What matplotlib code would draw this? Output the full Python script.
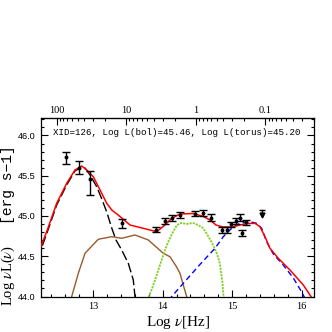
import numpy as np
import matplotlib
matplotlib.use("Agg")
import matplotlib.pyplot as plt
from matplotlib.ticker import MultipleLocator, FixedLocator

plt.rcParams["mathtext.fontset"] = "stix"

# ---- data (log nu [Hz], log nuL(nu) [erg/s]) ----
obs_lognu = [12.605, 12.80, 12.957, 13.42, 13.905, 14.04, 14.14, 14.25, 14.46,
             14.576, 14.69, 14.85, 14.92, 14.99, 15.05, 15.11, 15.145, 15.195]
obs_logL = [45.73, 45.60, 45.456, 44.907, 44.83, 44.94, 44.975, 45.016, 45.03,
            45.04, 44.98, 44.826, 44.826, 44.895, 44.94, 44.98, 44.79, 44.92]
obs_err_lo = [0.08, 0.078, 0.195, 0.055, 0.035, 0.035, 0.035, 0.035, 0.035,
              0.04, 0.04, 0.035, 0.035, 0.035, 0.035, 0.045, 0.035, 0.035]
obs_err_hi = [0.07, 0.078, 0.10, 0.055, 0.035, 0.035, 0.035, 0.035, 0.035,
              0.04, 0.04, 0.035, 0.035, 0.035, 0.035, 0.045, 0.035, 0.035]

ul_lognu = [15.43]
ul_logL = [45.07]
ul_len = [0.06]

total_x = [12.20, 12.260, 12.343, 12.478, 12.622, 12.741, 12.838, 12.909, 13.004,
           13.101, 13.197, 13.269, 13.388, 13.532, 13.723, 13.915, 14.034,
           14.131, 14.250, 14.441, 14.585, 14.681, 14.767, 14.868, 14.997,
           15.112, 15.227, 15.328, 15.399, 15.471, 15.543, 15.662, 15.830,
           16.022, 16.132, 16.20]
total_y = [44.52, 44.640, 44.826, 45.158, 45.406, 45.571, 45.621, 45.571, 45.488,
           45.323, 45.158, 45.075, 44.994, 44.888, 44.847, 44.805, 44.888,
           44.971, 45.025, 45.031, 44.994, 44.950, 44.888, 44.863, 44.863,
           44.888, 44.907, 44.909, 44.867, 44.743, 44.599, 44.475, 44.329,
           44.143, 44.0, 43.9]

sb_x = [12.20, 12.260, 12.343, 12.478, 12.622, 12.741, 12.838, 12.885, 12.957,
        13.053, 13.115, 13.197, 13.269, 13.330, 13.412, 13.507, 13.579, 13.603, 13.62]
sb_y = [44.48, 44.602, 44.801, 45.137, 45.385, 45.559, 45.609, 45.596, 45.509,
        45.364, 45.236, 45.050, 44.851, 44.702, 44.578, 44.412, 44.205, 44.0, 43.8]

torus_x = [12.67, 12.694, 12.789, 12.885, 13.076, 13.269, 13.412, 13.603, 13.795,
           14.010, 14.106, 14.193, 14.250, 14.297, 14.346, 14.36]
torus_y = [43.9, 44.0, 44.288, 44.537, 44.711, 44.743, 44.723, 44.764, 44.702,
           44.537, 44.494, 44.379, 44.288, 44.143, 44.0, 43.95]

gal_x = [13.79, 13.805, 13.862, 13.920, 13.977, 14.034, 14.092, 14.149, 14.207,
         14.264, 14.351, 14.437, 14.509, 14.580, 14.638, 14.695, 14.739,
         14.782, 14.818, 14.839, 14.861, 14.875, 14.88]
gal_y = [43.95, 44.0, 44.130, 44.280, 44.429, 44.578, 44.702, 44.801, 44.888,
         44.913, 44.901, 44.913, 44.888, 44.851, 44.776, 44.689, 44.615,
         44.528, 44.429, 44.304, 44.168, 44.0, 43.9]

disk_x = [14.09, 14.131, 14.537, 14.753, 14.872, 15.016, 15.112, 15.256, 15.352,
          15.424, 15.496, 15.591, 15.734, 15.878, 15.999, 16.032, 16.06]
disk_y = [43.95, 44.0, 44.398, 44.599, 44.743, 44.867, 44.909, 44.929, 44.909,
          44.847, 44.677, 44.528, 44.391, 44.230, 44.056, 44.0, 43.95]

top_ticks = [100, 10, 1, 0.1]
top_labels = ["100", "10", "1", "0.1"]
info = "XID=126, Log L(bol)=45.46, Log L(torus)=45.20"

# ---- figure ----
fig = plt.figure(figsize=(3.32, 3.32), dpi=100)
ax = fig.add_axes([0.1244, 0.1069, 0.8223, 0.5377])

ax.plot(torus_x, torus_y, color="#9b5a2b", lw=1.0, zorder=2)
ax.plot(sb_x, sb_y, color="black", lw=1.0, ls=(0, (7, 2.5)), zorder=2)
ax.plot(gal_x, gal_y, color="#80cf22", lw=1.3, ls=(0, (1.2, 0.6)), zorder=2)
ax.plot(disk_x, disk_y, color="blue", lw=1.0, ls=(0, (4, 2.5)), zorder=2)
ax.plot(total_x, total_y, color="red", lw=1.1, zorder=3)

ax.errorbar(obs_lognu, obs_logL, yerr=[obs_err_lo, obs_err_hi], fmt="o",
            color="black", ms=1.8, lw=1.0, capsize=3.0, capthick=1.0, zorder=4)
for x, y, l in zip(ul_lognu, ul_logL, ul_len):
    ax.plot([x], [y], marker="_", ms=5, mew=1.0, color="black", zorder=4)
    ax.plot([x, x], [y, y - l], color="black", lw=1.0, zorder=4)
    ax.plot([x], [y - l], marker="v", ms=3.5, color="black", zorder=4)

ax.set_xlim(12.257, 16.18)
ax.set_ylim(44.0, 46.217)

ax.xaxis.set_major_locator(MultipleLocator(1))
ax.xaxis.set_minor_locator(MultipleLocator(0.2))
ax.yaxis.set_major_locator(MultipleLocator(0.5))
ax.yaxis.set_minor_locator(MultipleLocator(0.1))
ax.tick_params(axis="both", which="both", direction="in", width=0.8)
ax.tick_params(axis="x", which="both", top=False, bottom=True)
ax.tick_params(axis="y", which="both", left=True, right=True)
ax.tick_params(which="major", length=5)
ax.tick_params(which="minor", length=2.5)
ax.tick_params(axis="x", pad=4)
ax.tick_params(axis="y", pad=4)
for lab in ax.get_xticklabels():
    lab.set_fontfamily("Liberation Serif")
    lab.set_fontsize(7.5)
for lab in ax.get_yticklabels():
    lab.set_fontfamily("Liberation Sans")
    lab.set_fontsize(6.6)
for s in ax.spines.values():
    s.set_linewidth(0.9)

LOGC = 14.4768
sec = ax.secondary_xaxis("top", functions=(lambda x: 10 ** (LOGC - np.asarray(x)),
                                           lambda l: LOGC - np.log10(np.asarray(l))))
sec.set_xticks(top_ticks, labels=top_labels)
minor = [m * 10.0 ** k for k in range(-2, 3) for m in range(2, 10)]
sec.xaxis.set_minor_locator(FixedLocator(minor))
sec.tick_params(which="both", direction="in", width=0.8, pad=2)
sec.tick_params(which="major", length=5)
sec.tick_params(which="minor", length=2.5)
for lab in sec.get_xticklabels():
    lab.set_fontfamily("Liberation Serif")
    lab.set_fontsize(7.5)

ax.text(0.044, 0.918, info, transform=ax.transAxes, ha="left", va="center",
        family="Liberation Mono", fontsize=6.6)

ax.set_xlabel(r"Log $\nu$[Hz]", family="Liberation Serif", fontsize=11, labelpad=2)
fig.text(0.024, 0.170, r"Log $\nu$L($\nu$)", rotation=90, ha="center", va="center",
         family="Liberation Serif", fontsize=10.5)
fig.text(0.024, 0.443, "[erg s\u22121]", rotation=90, ha="center", va="center",
         family="Liberation Mono", fontsize=10.5)

fig.savefig("out.png", dpi=100)
